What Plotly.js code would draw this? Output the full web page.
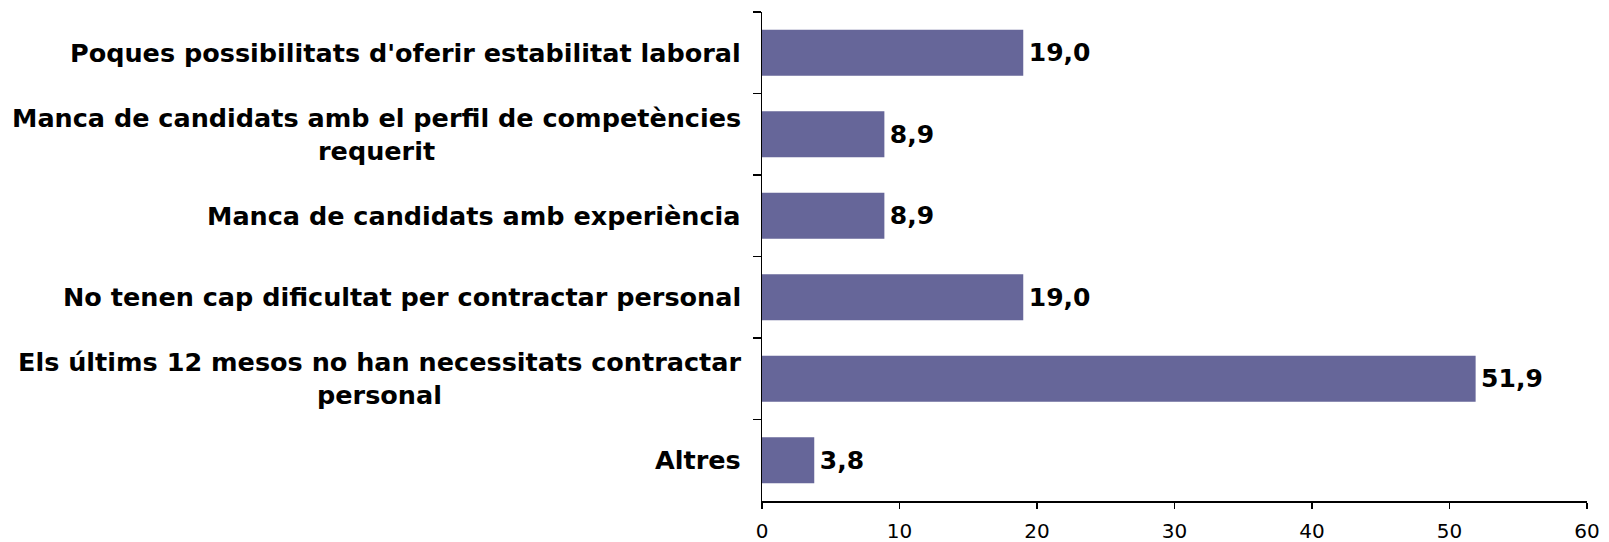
<!DOCTYPE html>
<html>
<head>
<meta charset="utf-8">
<script src="https://cdn.plot.ly/plotly-3.0.1.min.js"></script>
<style>html,body{margin:0;padding:0;background:#fff;}#chart{width:1609px;height:542px;}</style>
</head>
<body>
<div id="chart"></div>
<script>
const categories = [
  "Poques possibilitats d'oferir estabilitat laboral",
  "Manca de candidats amb el perfil de competències<br>requerit",
  "Manca de candidats amb experiència",
  "No tenen cap dificultat per contractar personal",
  "Els últims 12 mesos no han necessitats contractar<br>personal",
  "Altres"
];
const values = [19.0, 8.9, 8.9, 19.0, 51.9, 3.8];
const valueLabels = values.map(v => '\u200A' + v.toFixed(1).replace('.', ','));
const xTicks = [0, 10, 20, 30, 40, 50, 60];

const trace = {
  type: 'bar',
  orientation: 'h',
  y: categories,
  x: values,
  text: valueLabels,
  textposition: 'outside',
  cliponaxis: false,
  textfont: {family: 'DejaVu Sans', size: 25, color: '#000', weight: 'bold'},
  marker: {color: '#666699', line: {width: 0}},
  hoverinfo: 'none'
};

const annotations = categories.map(c => ({
  xref: 'paper', yref: 'y', x: 0, y: c,
  xanchor: 'right', yanchor: 'middle', xshift: -19,
  align: 'center', showarrow: false,
  text: c,
  font: {family: 'DejaVu Sans', size: 25.5, color: '#000', weight: 'bold'}
}));

const layout = {
  width: 1609, height: 542,
  margin: {l: 762, r: 22, t: 12, b: 41},
  paper_bgcolor: '#fff', plot_bgcolor: '#fff',
  showlegend: false,
  bargap: 0.435,
  xaxis: {
    range: [0, 60], tickvals: xTicks, ticktext: xTicks.map(String),
    showline: true, linecolor: '#000', linewidth: 1.5,
    ticks: 'outside', ticklen: 6, tickcolor: '#000', tickwidth: 1.5,
    ticklabelstandoff: 5,
    showgrid: false, zeroline: false, fixedrange: true,
    tickfont: {family: 'DejaVu Sans', size: 20, color: '#000'}
  },
  yaxis: {
    type: 'category', categoryorder: 'array', categoryarray: categories,
    autorange: 'reversed',
    showline: true, linecolor: '#000', linewidth: 1.5,
    ticks: 'outside', tickson: 'boundaries', ticklen: 8, tickcolor: '#000', tickwidth: 1.5,
    showticklabels: false, showgrid: false, zeroline: false, fixedrange: true
  },
  annotations: annotations
};

Plotly.newPlot('chart', [trace], layout, {staticPlot: true, displayModeBar: false});
</script>
</body>
</html>
